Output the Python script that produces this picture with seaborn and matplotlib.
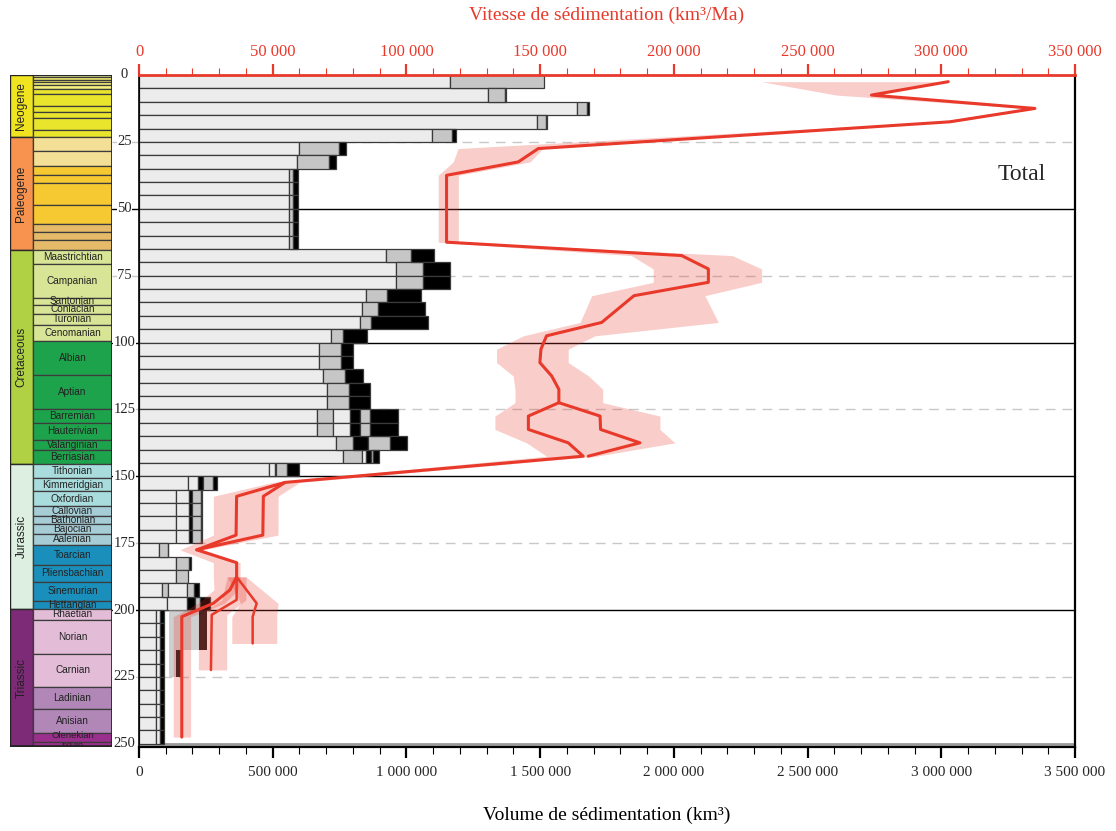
import numpy as np
import pandas as pd
import seaborn as sns
import matplotlib.pyplot as plt
from matplotlib.patches import Rectangle
from matplotlib.ticker import MultipleLocator, FuncFormatter

# ---------------- data ----------------
# sediment volume per 5 Ma bin (10^3 km3), segments in stacking order
bin_top = list(range(0, 250, 5))
light_a = [1163, 1306, 1637, 1490, 1095, 600, 590, 560, 560, 560, 560, 560, 560,
           923, 961, 961, 848, 835, 825, 718, 672, 672, 689, 703, 703,
           665, 665, 737, 764, 487,
           184, 138, 138, 138, 138, 76, 138, 138, 85, 104,
           64, 64, 64, 64, 64, 64, 64, 64, 64, 64]
mid_a = [352, 62, 37, 31, 75, 147, 121, 15, 15, 15, 15, 15, 15,
         93, 102, 102, 79, 60, 41, 44, 82, 82, 81, 82, 82,
         62, 62, 65, 69, 0,
         0, 0, 0, 0, 0, 31, 50, 46, 25, 0,
         0, 0, 0, 0, 0, 0, 0, 0, 0, 0]
light_b = [0] * 25 + [62, 62, 0, 16, 20] + [37, 50, 50, 50, 50, 0, 0, 0, 70, 77] + [15] * 10
dark_a = [0, 6, 9, 4, 15, 27, 25, 21, 21, 21, 21, 21, 21,
          88, 100, 100, 128, 175, 215, 91, 47, 47, 68, 80, 80,
          37, 37, 56, 18, 5,
          19, 9, 9, 9, 9, 3, 6, 0, 0, 29,
          13, 13, 13, 13, 13, 13, 13, 13, 13, 13]
mid_b = [0] * 25 + [37, 37, 81, 7, 40] + [35, 35, 35, 35, 35, 0, 0, 0, 25, 19] + [0] * 10
dark_b = [0] * 25 + [107, 107, 65, 22, 45] + [15, 4, 4, 4, 4, 0, 0, 0, 21, 35] + [0] * 10

# alternative Triassic scenario (translucent bars)
tri_top = [200, 205, 210, 215, 220]
tri_left = [113, 113, 113, 113, 113]
tri_mid = [112, 112, 112, 25, 25]
tri_dark = [31, 31, 31, 27, 27]

# sedimentation rate (km3/Ma), total curve and uncertainty band
vel_age = [2.5, 7.5, 12.5, 17.5, 27.5, 32.5, 37.5, 62.5, 67.5, 72.5, 77.5, 82.5,
           92.5, 97.5, 102.5, 107.5, 112.5, 117.5, 122.5, 127.5, 132.5, 137.5, 142.5,
           152.3, 157.5, 172.0, 177.5, 182.3, 187.6, 192.5, 197.5, 202.5, 247.5]
vel_total = [302600, 273900, 335000, 303200, 149300, 141800, 115000, 115000, 202900,
             212900, 212900, 185100, 173000, 152400, 150300, 149900, 154300, 157000,
             157000, 145600, 145600, 160500, 166100, 54600, 46500, 46300, 21600,
             36500, 36500, 34000, 27800, 16000, 16000]
vel_low = [232800, 260700, 332000, 298000, 119300, 117500, 111900, 111900, 184100,
           192300, 192300, 169300, 164900, 143700, 133700, 133700, 139900, 140600,
           140600, 133100, 133100, 144900, 152400, 50000, 27800, 27800, 15300,
           27800, 27800, 28000, 22000, 12800, 12800]
vel_high = [302600, 273900, 336000, 305000, 151000, 146200, 119400, 119400, 221800,
            232800, 232800, 211600, 216600, 170500, 160500, 160500, 168100, 173400,
            173400, 194800, 194800, 200400, 171100, 60000, 52000, 52000, 23900,
            37800, 37800, 37000, 32000, 19300, 19300]

# alternative curves
alt_cret_age = [122.5, 127.5, 132.5, 137.5, 142.5]
alt_cret_vel = [157000, 172400, 172600, 187300, 168000]
alt_jur_age = [152.3, 157.5, 172.0, 177.5]
alt_jur_vel = [54600, 36500, 36300, 21600]
alt_tr1_age = [187.6, 196.2, 201.8, 222.4]
alt_tr1_vel = [36500, 36500, 27200, 26900]
alt_tr1_low = [33000, 31000, 22200, 22200]
alt_tr1_high = [40000, 40000, 32800, 32800]
alt_tr2_age = [187.6, 197.5, 202.5, 212.5]
alt_tr2_vel = [36500, 44000, 42500, 42500]
alt_tr2_low = [33000, 38000, 34700, 34700]
alt_tr2_high = [40000, 52000, 51500, 51500]

# stratigraphic column
period_names = ["Neogene", "Paleogene", "Cretaceous", "Jurassic", "Triassic"]
period_bounds = [0, 23.03, 65.5, 145.5, 199.6, 251.0]
period_colors = ["#f0e421", "#f7934f", "#b0d143", "#dcefe0", "#7d2a77"]

stage_bounds = [0, 0.126, 0.781, 1.806, 2.588, 3.6, 5.332, 7.246, 11.608, 13.82, 15.97, 20.43,
                23.03, 28.4, 33.9, 37.2, 40.4, 48.6, 55.8, 58.7, 61.7,
                65.5, 70.6, 83.5, 85.8, 89.3, 93.5, 99.6, 112.0, 125.0, 130.0, 136.4, 140.2,
                145.5, 150.8, 155.6, 161.2, 164.7, 167.7, 171.6, 175.6, 183.0, 189.6, 196.5,
                199.6, 203.6, 216.5, 228.7, 237.0, 245.9, 249.5, 251.0]
stage_names = [""] * 12 + [""] * 9 + [
    "Maastrichtian", "Campanian", "Santonian", "Coniacian", "Turonian", "Cenomanian",
    "Albian", "Aptian", "Barremian", "Hauterivian", "Valanginian", "Berriasian",
    "Tithonian", "Kimmeridgian", "Oxfordian", "Callovian", "Bathonian", "Bajocian",
    "Aalenian", "Toarcian", "Pliensbachian", "Sinemurian", "Hettangian",
    "Rhaetian", "Norian", "Carnian", "Ladinian", "Anisian", "Olenekian", "Induan"]
stage_colors = (["#f4f0c2", "#f3ef9c", "#efeb6a", "#efeb6a", "#f3ee7c", "#f3ee7c"] + ["#e8e52c"] * 6
                + ["#f3df95"] * 2 + ["#f6c932"] * 4 + ["#e5ba68"] * 3
                + ["#d9e596"] * 6 + ["#1ea34d"] * 6
                + ["#a9dcdd"] * 3 + ["#a6ccd6"] * 4 + ["#1b8fbb"] * 4
                + ["#e3bdd7"] * 3 + ["#b187b8"] * 2 + ["#9b2f8e"] * 2)

age_ticks = [0, 25, 50, 75, 100, 125, 150, 175, 200, 225, 250]

# ---------------- style ----------------
sns.set_theme(style="ticks")
plt.rcParams['font.family'] = ['Liberation Serif', 'DejaVu Serif']
red = "#e8392b"
edge = "#3a3a3a"

fig = plt.figure(figsize=(11.16, 8.31), dpi=100)
ax_bottom, ax_h = 1 - 746.7 / 831, 671.7 / 831
ax = fig.add_axes([139 / 1116, ax_bottom, 936 / 1116, ax_h])
col = fig.add_axes([10 / 1116, ax_bottom, 102 / 1116, ax_h])
ymax = 251.1

# ---------------- bars ----------------
seg_list = [light_a, mid_a, light_b, dark_a, mid_b, dark_b]
seg_cols = ["#ececec", "#c6c6c6", "#ececec", "#000000", "#c6c6c6", "#000000"]
ycent = np.array(bin_top) + 2.5
left = np.zeros(len(bin_top))
for vals, c in zip(seg_list, seg_cols):
    v = np.array(vals, dtype=float) * 1000
    m = v > 0
    ax.barh(ycent[m], v[m], height=5, left=left[m], color=c, edgecolor=edge,
            linewidth=0.9, zorder=2)
    left += v

ty = np.array(tri_top) + 2.5
tl = np.array(tri_left) * 1000.0
ax.barh(ty, np.array(tri_mid) * 1000.0, height=5, left=tl, color="#a8a8a8",
        alpha=0.55, linewidth=0, zorder=2.5)
ax.barh(ty, np.array(tri_dark) * 1000.0, height=5, left=tl + np.array(tri_mid) * 1000.0,
        color="#1a1010", alpha=0.95, linewidth=0, zorder=2.5)

ax.axhline(250, color="#9a9a9a", lw=2, zorder=1.5)

# age reference lines
ytr = ax.get_yaxis_transform()
for a in [25, 75, 125, 175, 225]:
    ax.plot([-0.0288, 1], [a, a], transform=ytr, clip_on=False, color="#c8c8c8",
            lw=1, dashes=(7, 5), zorder=0.5)
for a in [50, 100, 150, 200]:
    ax.plot([-0.0288, 1], [a, a], transform=ytr, clip_on=False, color="black",
            lw=1, zorder=0.5)
for a in age_ticks:
    ax.text(-0.0155, a, str(a), transform=ytr, ha="center", va="center", fontsize=10.5,
            bbox=dict(facecolor="white", edgecolor="none", pad=0.3), zorder=5)

ax.set_xlim(0, 3500000)
ax.set_ylim(ymax, 0)
ax.set_yticks([])
ax.xaxis.set_major_locator(MultipleLocator(500000))
ax.xaxis.set_minor_locator(MultipleLocator(100000))
fmt = FuncFormatter(lambda v, p: f"{int(round(v)):,}".replace(",", " "))
ax.xaxis.set_major_formatter(fmt)
ax.tick_params(axis="x", which="major", length=8, width=1.6, labelsize=11, pad=6,
               direction="out", color="black")
ax.tick_params(axis="x", which="minor", length=5, width=0.8, direction="out", color="black")
ax.spines["top"].set_visible(False)
for s in ["left", "right", "bottom"]:
    ax.spines[s].set_color("black")
ax.spines["left"].set_linewidth(1.2)
ax.spines["right"].set_linewidth(1.6)
ax.spines["bottom"].set_linewidth(1.6)

# ---------------- rate curves ----------------
ax2 = ax.twiny()
ax2.fill_betweenx(vel_age, vel_low, vel_high, color=red, alpha=0.25, lw=0, zorder=3)
ax2.fill_betweenx(alt_tr1_age, alt_tr1_low, alt_tr1_high, color=red, alpha=0.25, lw=0, zorder=3)
ax2.fill_betweenx(alt_tr2_age, alt_tr2_low, alt_tr2_high, color=red, alpha=0.25, lw=0, zorder=3)

curves = [(vel_age, vel_total, 2.2), (alt_cret_age, alt_cret_vel, 2.2),
          (alt_jur_age, alt_jur_vel, 2.2), (alt_tr1_age, alt_tr1_vel, 1.8),
          (alt_tr2_age, alt_tr2_vel, 1.8)]
for ages, vels, lw in curves:
    df = pd.DataFrame({"age": ages, "vel": vels})
    sns.lineplot(data=df, x="vel", y="age", sort=False, estimator=None, orient="y",
                 color=red, lw=lw, ax=ax2, zorder=4)

ax2.set_xlim(0, 350000)
ax2.set_ylim(ymax, 0)
ax2.set_ylabel("")
ax2.set_xlabel("")
ax2.set_yticks([])
ax2.xaxis.set_major_locator(MultipleLocator(50000))
ax2.xaxis.set_minor_locator(MultipleLocator(10000))
ax2.xaxis.set_major_formatter(fmt)
ax2.tick_params(axis="x", which="major", length=8, width=1.6, labelsize=12, pad=3,
                colors=red, direction="out")
ax2.tick_params(axis="x", which="minor", length=5, width=0.8, color=red, direction="out")
for s in ["left", "right", "bottom"]:
    ax2.spines[s].set_visible(False)
ax2.spines["top"].set_color(red)
ax2.spines["top"].set_linewidth(2)

fig.text(607 / 1116, 1 - 15 / 831, "Vitesse de sédimentation (km³/Ma)", color=red,
         fontsize=14, ha="center", va="center")
fig.text(607 / 1116, 1 - 815 / 831, "Volume de sédimentation (km³)", color="black",
         fontsize=14, ha="center", va="center")
fig.text(1022 / 1116, 1 - 175 / 831, "Total", fontsize=17, ha="center", va="center")

# ---------------- stratigraphic column ----------------
col.set_xlim(0, 102)
col.set_ylim(ymax, 0)
col.axis("off")
for i, name in enumerate(period_names):
    t, b = period_bounds[i], period_bounds[i + 1]
    col.add_patch(Rectangle((0, t), 23, b - t, facecolor=period_colors[i],
                            edgecolor="#2a2a2a", lw=1))
    col.text(11.5, (t + b) / 2, name, rotation=90, ha="center", va="center",
             fontsize=8.5, family="Liberation Sans", color="#222222")
for i, name in enumerate(stage_names):
    t, b = stage_bounds[i], stage_bounds[i + 1]
    col.add_patch(Rectangle((23, t), 79, b - t, facecolor=stage_colors[i],
                            edgecolor="#3c3c3c", lw=0.9))
# small nudges for the two thinnest Triassic stages at the column base
label_shift = {"Olenekian": -0.6, "Induan": 0.5}
label_size = {"Olenekian": 6.8, "Induan": 5.2}
for i, name in enumerate(stage_names):
    if name:
        t, b = stage_bounds[i], stage_bounds[i + 1]
        col.text(62.5, (t + b) / 2 + label_shift.get(name, 0), name, ha="center",
                 va="center", fontsize=label_size.get(name, 7.2),
                 family="Liberation Sans", color="#222222")
col.add_patch(Rectangle((0, 0), 102, 251.0, facecolor="none", edgecolor="#222222", lw=1.2))

fig.savefig("out.png", dpi=100)
